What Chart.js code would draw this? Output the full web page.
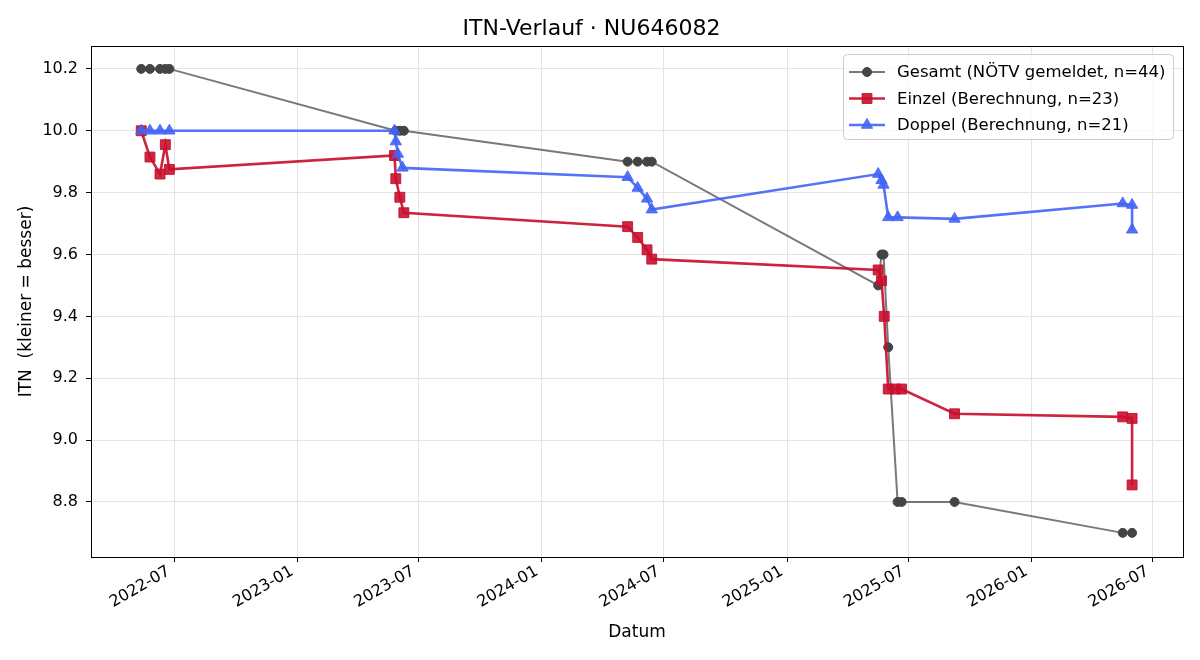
<!DOCTYPE html>
<html>
<head>
<meta charset="utf-8">
<script src="https://cdn.jsdelivr.net/npm/chart.js@4"></script>
<style>
  body { margin: 0; background: #fff; }
  #wrap { width: 1200px; height: 660px; }
</style>
</head>
<body>
<div id="wrap"><canvas id="itn-chart"></canvas></div>
<script>
// Gesamt (NÖTV gemeldet)
const gesamtDates = ['2022-05-13', '2022-05-26', '2022-06-10', '2022-06-18', '2022-06-24',
    '2023-05-28', '2023-06-03', '2023-06-09',
    '2024-05-08', '2024-05-23', '2024-06-06', '2024-06-13',
    '2025-05-17', '2025-05-22', '2025-05-25', '2025-06-01', '2025-06-15', '2025-06-21', '2025-09-08',
    '2026-05-17', '2026-05-31'];
const gesamtValues = [10.2, 10.2, 10.2, 10.2, 10.2,
    10.0, 10.0, 10.0,
    9.9, 9.9, 9.9, 9.9,
    9.5, 9.6, 9.6, 9.3, 8.8, 8.8, 8.8,
    8.7, 8.7];

// Einzel (Berechnung)
const einzelDates = ['2022-05-13', '2022-05-26', '2022-06-10', '2022-06-18', '2022-06-24',
    '2023-05-26', '2023-05-28', '2023-06-03', '2023-06-09',
    '2024-05-08', '2024-05-23', '2024-06-06', '2024-06-13',
    '2025-05-17', '2025-05-22', '2025-05-26', '2025-06-01', '2025-06-12', '2025-06-21',
    '2025-09-08',
    '2026-05-17', '2026-05-31', '2026-05-31'];
const einzelValues = [10.0, 9.915, 9.86, 9.955, 9.875,
    9.92, 9.845, 9.785, 9.735,
    9.69, 9.655, 9.615, 9.585,
    9.55, 9.515, 9.40, 9.165, 9.165, 9.165,
    9.085,
    9.075, 9.07, 8.855];

// Doppel (Berechnung)
const doppelDates = ['2022-05-13', '2022-05-26', '2022-06-10', '2022-06-24',
    '2023-05-26', '2023-05-28', '2023-05-31', '2023-06-07',
    '2024-05-08', '2024-05-23', '2024-06-06', '2024-06-13',
    '2025-05-17', '2025-05-22', '2025-05-25', '2025-06-01', '2025-06-15',
    '2025-09-08',
    '2026-05-17', '2026-05-31', '2026-05-31'];
const doppelValues = [10.0, 10.0, 10.0, 10.0,
    10.0, 9.965, 9.925, 9.88,
    9.85, 9.815, 9.78, 9.745,
    9.86, 9.84, 9.825, 9.72, 9.72,
    9.715,
    9.765, 9.76, 9.68];

const xTickLabels = ['2022-07', '2023-01', '2023-07', '2024-01', '2024-07', '2025-01', '2025-07', '2026-01', '2026-07'];
const yTickValues = [8.8, 9.0, 9.2, 9.4, 9.6, 9.8, 10.0, 10.2];

const xTickValues = xTickLabels.map(l => Date.parse(l + '-01'));
const toPoints = (dates, values) => dates.map((d, i) => ({ x: Date.parse(d), y: values[i] }));

const FONT = "'DejaVu Sans', sans-serif";

// Rahmen + Legende im Plotbereich
const framePlugin = {
    id: 'frameAndLegend',
    afterDraw(chart) {
        const ctx = chart.ctx;
        const a = chart.chartArea;
        ctx.save();
        ctx.strokeStyle = '#000';
        ctx.lineWidth = 1;
        ctx.strokeRect(Math.round(a.left) + 0.5, Math.round(a.top) + 0.5,
            Math.round(a.right - a.left), Math.round(a.bottom - a.top));

        // Legende oben rechts
        const bx = 843, by = 54, bw = 330, bh = 85;
        ctx.beginPath();
        ctx.roundRect(bx + 0.5, by + 0.5, bw, bh, 4);
        ctx.fillStyle = 'rgba(255,255,255,0.8)';
        ctx.fill();
        ctx.strokeStyle = '#cccccc';
        ctx.stroke();

        ctx.font = '16.5px ' + FONT;
        ctx.textBaseline = 'middle';
        ctx.textAlign = 'left';
        chart.data.datasets.forEach((ds, i) => {
            const y = by + 18 + i * 26.5;
            ctx.beginPath();
            ctx.moveTo(849, y);
            ctx.lineTo(885, y);
            ctx.strokeStyle = ds.borderColor;
            ctx.lineWidth = ds.borderWidth;
            ctx.stroke();
            ctx.fillStyle = ds.pointBackgroundColor;
            ctx.strokeStyle = ds.pointBorderColor;
            ctx.lineWidth = 1;
            Chart.helpers.drawPoint(ctx, { pointStyle: ds.pointStyle, radius: ds.pointRadius, borderWidth: 1 }, 867, y);
            ctx.fillStyle = '#000';
            ctx.fillText(ds.label, 897, y + 1);
        });
        ctx.restore();
    }
};

const chart = new Chart(document.getElementById('itn-chart').getContext('2d'), {
    type: 'line',
    data: {
        datasets: [
            {
                label: 'Gesamt (NÖTV gemeldet, n=44)',
                data: toPoints(gesamtDates, gesamtValues),
                borderColor: 'rgba(68,68,68,0.72)',
                borderWidth: 2,
                pointStyle: 'circle',
                pointRadius: 4.5,
                pointBackgroundColor: '#444444',
                pointBorderColor: '#444444',
                pointBorderWidth: 1,
                order: 3
            },
            {
                label: 'Einzel (Berechnung, n=23)',
                data: toPoints(einzelDates, einzelValues),
                borderColor: 'rgba(200,16,46,0.92)',
                borderWidth: 2.6,
                pointStyle: 'rect',
                pointRadius: 7,
                pointBackgroundColor: 'rgba(200,16,46,0.9)',
                pointBorderColor: 'rgba(200,16,46,0.9)',
                pointBorderWidth: 1,
                order: 2
            },
            {
                label: 'Doppel (Berechnung, n=21)',
                data: toPoints(doppelDates, doppelValues),
                borderColor: 'rgba(65,100,245,0.9)',
                borderWidth: 2.6,
                pointStyle: 'triangle',
                pointRadius: 6.5,
                pointBackgroundColor: 'rgba(65,100,245,0.9)',
                pointBorderColor: 'rgba(65,100,245,0.9)',
                pointBorderWidth: 1,
                order: 1
            }
        ]
    },
    options: {
        responsive: true,
        maintainAspectRatio: false,
        animation: false,
        layout: { padding: { left: 0, right: 17, top: 0, bottom: 0 } },
        elements: { line: { tension: 0 } },
        plugins: {
            legend: { display: false },
            tooltip: { enabled: false },
            title: {
                display: true,
                text: 'ITN-Verlauf · NU646082',
                color: '#000',
                font: { family: FONT, size: 22, weight: 'normal' },
                padding: { top: 16, bottom: 3.6 }
            }
        },
        scales: {
            x: {
                type: 'linear',
                min: Date.parse('2022-02-27'),
                max: Date.parse('2026-08-15'),
                afterBuildTicks: scale => {
                    scale.ticks = xTickValues.map(v => ({ value: v }));
                },
                afterFit: scale => { scale.height = 103; },
                ticks: {
                    autoSkip: false,
                    minRotation: 30,
                    maxRotation: 30,
                    padding: 0,
                    labelOffset: -5,
                    color: '#000',
                    font: { family: FONT, size: 16 },
                    callback: value => {
                        const i = xTickValues.indexOf(value);
                        return i >= 0 ? xTickLabels[i] : '';
                    }
                },
                grid: { color: '#e4e4e4', tickColor: '#000', tickLength: 5 },
                border: { display: false },
                title: {
                    display: true,
                    text: 'Datum',
                    color: '#000',
                    font: { family: FONT, size: 17 },
                    padding: { top: 0, bottom: 17 }
                }
            },
            y: {
                min: 8.622,
                max: 10.274,
                afterBuildTicks: scale => {
                    scale.ticks = yTickValues.map(v => ({ value: v }));
                },
                afterFit: scale => { scale.width = 91; },
                ticks: {
                    padding: 8,
                    color: '#000',
                    font: { family: FONT, size: 16 },
                    callback: value => value.toFixed(1)
                },
                grid: { color: '#e4e4e4', tickColor: '#000', tickLength: 5 },
                border: { display: false },
                title: {
                    display: true,
                    text: 'ITN  (kleiner = besser)',
                    color: '#000',
                    font: { family: FONT, size: 17 },
                    padding: { top: 16, bottom: 0 }
                }
            }
        }
    },
    plugins: [framePlugin]
});
</script>
</body>
</html>
